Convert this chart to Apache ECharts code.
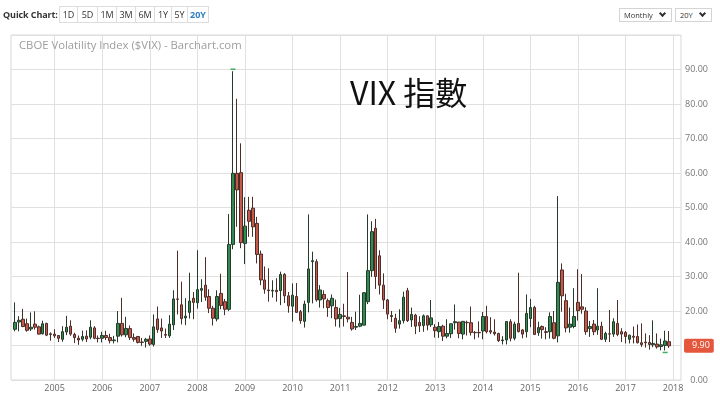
<!DOCTYPE html>
<html>
<head>
<meta charset="utf-8">
<script src="https://cdn.jsdelivr.net/npm/echarts@6/dist/echarts.min.js"></script>
<style>
html,body{margin:0;padding:0;background:#fff;}
#wrap{position:relative;width:720px;height:395px;overflow:hidden;font-family:'Open Sans','DejaVu Sans',sans-serif;}
#chart{position:absolute;left:0;top:0;width:720px;height:395px;}
.qc{position:absolute;left:3px;top:8px;font-size:9px;font-weight:700;color:#333;line-height:14px;letter-spacing:-0.1px;white-space:nowrap;}
.btns{position:absolute;left:59px;top:6px;height:17px;display:flex;border:1px solid #ddd;box-sizing:border-box;background:#fff;}
.btns span{display:block;height:15px;line-height:15px;font-size:9px;color:#333;text-align:center;box-sizing:border-box;border-left:1px solid #ddd;}
.btns span:first-child{border-left:none;}
.btns span.on{color:#2d7fc1;font-weight:700;}
.dd{position:absolute;top:8px;height:14px;border:1px solid #d4d4d4;box-sizing:border-box;font-size:7.5px;line-height:12px;color:#333;padding-left:4px;background:#fff;white-space:nowrap;}
.dd i{position:absolute;right:6px;top:2px;width:3px;height:3px;border-right:2px solid #333;border-bottom:2px solid #333;transform:rotate(45deg);}
</style>
</head>
<body>
<div id="wrap">
  <div id="chart"></div>
  <div class="qc">Quick Chart:</div>
  <div class="btns">
    <span style="width:17px">1D</span><span style="width:20px">5D</span><span style="width:19px">1M</span><span style="width:19px">3M</span><span style="width:19px">6M</span><span style="width:17px">1Y</span><span style="width:16px">5Y</span><span class="on" style="width:21px">20Y</span>
  </div>
  <div class="dd" style="left:619px;width:53px;">Monthly<i></i></div>
  <div class="dd" style="left:675px;width:37px;">20Y<i></i></div>
</div>
<script>
// Monthly candles, Mar 2004 .. Dec 2017
const opens = [
  14.7, 16.8, 17.6, 16.3, 14.8, 16.2, 15.4, 13.4, 16.4, 13.4,
  13.3, 12.9, 11.8, 13.9, 15.6, 13.2, 12.1, 11.8, 12.7, 12.4, 15.1, 12.1,
  12.1, 12.9, 12.3, 11.4, 12.7, 16.4, 13.1, 14.9, 12.3, 12.6, 11.0, 11.2,
  11.9, 10.3, 17.7, 15.1, 13.2, 12.8, 16.0, 23.5, 21.8, 18.0, 19.6, 23.7,
  22.4, 26.0, 27.5, 24.2, 20.8, 17.7, 25.1, 22.7, 20.5, 39.3, 59.9, 60.1,
  39.6, 49.2, 49.8, 45.4, 36.5, 29.0, 26.1, 25.8, 26.0, 25.9, 30.6, 24.4,
  21.4, 24.2, 19.8, 17.0, 22.5, 34.3, 34.3, 23.2, 24.8, 23.0, 21.5, 21.0,
  17.8, 18.6, 18.2, 16.7, 15.3, 15.6, 15.9, 22.7, 31.7, 44.0, 36.0, 27.5,
  23.2, 18.7, 17.9, 16.2, 17.2, 25.9, 17.4, 18.8, 16.7, 15.8, 18.6, 16.0,
  15.3, 14.0, 15.6, 12.7, 13.4, 16.6, 16.8, 13.3, 16.7, 16.6, 13.8, 13.8,
  14.2, 18.4, 14.3, 13.9, 13.5, 11.4, 11.6, 16.9, 12.1, 16.4, 14.5, 14.0,
  17.8, 21.0, 13.7, 15.5, 14.0, 14.0, 16.6, 12.8, 31.9, 23.0, 15.3, 15.5,
  22.5, 21.2, 20.0, 14.9, 16.2, 14.5, 15.6, 11.8, 13.4, 13.3, 16.4, 14.0,
  13.8, 11.8, 12.7, 12.6, 10.8, 11.0, 10.9, 10.2, 10.4, 9.7, 10.0, 11.1
];
const highs = [
  22.5, 18.5, 20.6, 17.8, 19.6, 19.9, 15.8, 17.2, 16.6, 13.8,
  14.7, 13.0, 15.6, 18.6, 17.3, 13.7, 12.9, 14.3, 14.4, 17.3, 15.6, 12.9,
  14.0, 14.3, 13.4, 12.8, 20.0, 23.8, 18.3, 15.8, 13.5, 12.8, 12.2, 12.2,
  12.9, 19.0, 21.3, 17.8, 14.9, 18.8, 26.0, 37.5, 28.5, 23.7, 31.1, 25.5,
  37.6, 29.2, 35.6, 26.3, 21.5, 26.0, 30.8, 23.5, 48.1, 89.5, 81.5, 68.6,
  53.0, 53.1, 53.1, 47.3, 37.5, 32.9, 32.4, 28.9, 29.5, 31.4, 31.0, 25.5,
  28.0, 28.1, 20.3, 23.0, 48.0, 37.2, 35.0, 27.5, 26.0, 23.6, 24.8, 23.3,
  20.9, 22.1, 31.3, 18.3, 19.8, 24.7, 25.5, 48.0, 46.0, 46.7, 37.6, 30.9,
  23.5, 20.0, 19.2, 20.5, 25.6, 26.7, 21.0, 19.2, 18.5, 19.0, 18.7, 23.2,
  16.2, 16.8, 16.0, 17.6, 16.3, 21.9, 16.8, 17.1, 17.2, 21.3, 14.2, 17.0,
  19.7, 21.5, 18.2, 17.6, 13.7, 12.7, 17.0, 17.6, 16.9, 31.1, 14.8, 24.8,
  23.5, 21.5, 16.9, 15.8, 15.3, 19.6, 20.0, 53.3, 33.8, 25.0, 21.0, 26.6,
  32.1, 30.7, 21.1, 17.1, 17.4, 26.6, 16.9, 14.0, 20.3, 17.9, 23.2, 15.0,
  14.2, 13.1, 15.5, 16.1, 16.4, 13.5, 13.0, 17.3, 13.5, 12.0, 14.3, 14.2
];
const lows = [
  14.1, 14.1, 15.3, 14.0, 14.2, 14.6, 13.2, 13.2, 12.7, 11.4,
  12.2, 11.0, 11.1, 13.0, 12.8, 10.7, 10.2, 11.2, 11.0, 11.8, 11.8, 10.9,
  10.9, 11.6, 10.6, 10.6, 10.9, 12.6, 12.4, 11.6, 11.1, 10.6, 9.9, 9.4,
  9.9, 9.7, 13.7, 12.2, 12.2, 12.2, 14.5, 19.0, 16.1, 15.9, 17.8, 17.6,
  20.7, 22.6, 23.0, 19.4, 15.8, 17.0, 20.5, 18.8, 20.0, 37.9, 44.4, 38.2,
  33.6, 41.5, 41.5, 33.8, 27.5, 25.0, 22.7, 23.9, 22.7, 21.7, 22.3, 19.5,
  16.9, 19.5, 16.3, 15.2, 19.6, 22.2, 22.7, 21.0, 20.8, 18.3, 17.9, 15.5,
  15.2, 15.5, 16.7, 14.3, 14.5, 15.3, 15.9, 22.0, 29.9, 26.4, 24.8, 20.6,
  17.6, 16.8, 13.7, 14.9, 16.4, 16.8, 15.4, 13.3, 13.9, 14.0, 14.4, 15.4,
  12.3, 12.2, 11.3, 12.1, 12.2, 14.6, 12.1, 11.8, 12.9, 12.9, 11.8, 12.3,
  11.8, 13.5, 13.3, 12.9, 11.0, 10.3, 10.3, 11.2, 11.5, 13.8, 12.1, 12.3,
  15.3, 13.1, 12.8, 12.0, 11.8, 12.0, 11.8, 10.9, 19.8, 13.8, 13.7, 15.0,
  17.2, 19.2, 13.1, 12.5, 13.0, 13.1, 11.6, 11.0, 11.0, 12.5, 12.7, 11.0,
  10.6, 10.6, 10.6, 10.6, 9.6, 9.4, 8.8, 9.5, 9.1, 8.6, 8.56, 9.3
];
const closes = [
  16.7, 17.3, 15.5, 14.4, 15.3, 15.3, 13.3, 16.3, 13.0, 13.2,
  12.8, 12.1, 14.0, 15.3, 13.3, 12.3, 11.6, 12.6, 11.9, 15.3, 12.1, 12.0,
  12.9, 12.3, 11.4, 11.6, 16.4, 13.1, 14.95, 12.3, 11.8, 10.9, 10.9, 11.8,
  10.4, 15.4, 14.6, 14.2, 13.0, 16.2, 23.5, 23.4, 17.8, 18.5, 22.9, 22.5,
  26.2, 26.5, 24.0, 20.8, 17.9, 24.2, 21.6, 20.5, 39.3, 59.9, 55.1, 39.8,
  44.6, 46.0, 44.4, 36.4, 29.0, 26.3, 25.9, 26.0, 25.6, 30.6, 24.4, 21.5,
  24.6, 19.6, 17.2, 22.0, 32.2, 34.6, 23.2, 26.1, 23.5, 21.0, 23.7, 17.7,
  19.0, 18.4, 17.7, 14.8, 15.5, 16.4, 25.3, 31.7, 43.0, 30.0, 27.5, 23.2,
  19.1, 18.4, 15.0, 17.2, 24.0, 17.2, 19.0, 15.6, 15.7, 18.6, 15.9, 18.0,
  14.3, 15.5, 12.7, 13.5, 16.3, 16.9, 13.5, 17.0, 16.6, 13.8, 13.7, 13.7,
  18.4, 14.0, 13.9, 13.4, 11.4, 11.6, 16.95, 12.1, 16.2, 14.0, 13.3, 19.3,
  21.0, 13.2, 15.2, 14.6, 13.8, 18.4, 12.1, 28.3, 24.4, 15.1, 16.2, 18.4,
  20.1, 20.5, 14.0, 15.5, 14.0, 15.6, 11.8, 13.5, 13.3, 16.9, 13.2, 13.3,
  12.6, 13.0, 12.4, 10.8, 10.3, 10.8, 10.3, 10.6, 9.6, 10.2, 11.3, 9.9
];
const lastPrice = 9.90;
const yTicks = [0, 10, 20, 30, 40, 50, 60, 70, 80, 90];

// category axis: Feb 2004 .. Mar 2018 (one empty month before, three after)
const axisStartYear = 2004, axisStartMonth = 2, padBefore = 1, padAfter = 3;
const categories = [];
for (let i = 0; i < padBefore + closes.length + padAfter; i++) {
  const m = axisStartMonth - 1 + i;
  categories.push((axisStartYear + Math.floor(m / 12)) + '-' + String(m % 12 + 1).padStart(2, '0'));
}
const empty = ['-', '-', '-', '-'];
const candles = categories.map((c, i) => {
  const k = i - padBefore;
  if (k < 0 || k >= closes.length) return empty;
  return [opens[k], closes[k], lows[k], highs[k]];
});
const isJan = (idx, val) => String(val).slice(5) === '01';

const chart = echarts.init(document.getElementById('chart'), null, { renderer: 'canvas' });
chart.setOption({
  animation: false,
  backgroundColor: '#fff',
  textStyle: { fontFamily: "'Open Sans', sans-serif" },
  title: [
    {
      text: 'CBOE Volatility Index ($VIX) - Barchart.com',
      left: 19, top: 40, padding: 0,
      textStyle: { fontSize: 11.3, fontWeight: 'normal', color: '#9d9d9d', fontFamily: "'Open Sans', sans-serif" }
    },
    {
      text: 'VIX 指數',
      left: 350, top: 77, padding: 0,
      textStyle: { fontSize: 32, fontWeight: 'normal', color: '#111', fontFamily: "'Noto Sans CJK TC', 'Open Sans', sans-serif" }
    }
  ],
  grid: {
    left: 11, right: 39, top: 35, bottom: 15,
    containLabel: false, outerBoundsMode: 'none',
    show: true, borderColor: '#d8d8d8', borderWidth: 1, backgroundColor: 'transparent'
  },
  xAxis: {
    type: 'category',
    data: categories,
    boundaryGap: false,
    axisLine: { show: false },
    axisTick: { show: false },
    axisLabel: {
      interval: isJan,
      formatter: v => v.slice(0, 4),
      fontSize: 9, color: '#666', margin: 4
    },
    splitLine: { show: true, interval: isJan, lineStyle: { color: '#e0e0e0', width: 1 } }
  },
  yAxis: {
    type: 'value',
    position: 'right',
    min: 0, max: 100, interval: 10,
    axisLine: { show: false },
    axisTick: { show: false },
    axisLabel: {
      showMaxLabel: false,
      formatter: v => (yTicks.indexOf(v) >= 0 ? v.toFixed(2) : ''),
      fontSize: 9, color: '#777', margin: 27, align: 'right'
    },
    splitLine: { show: true, lineStyle: { color: '#e0e0e0', width: 1 } }
  },
  series: [{
    type: 'candlestick',
    data: candles,
    barWidth: 3,
    itemStyle: {
      color: '#2f8c4e',
      color0: '#c4584a',
      borderColor: '#263a2c',
      borderColor0: '#4d2d28',
      borderWidth: 1
    },
    markPoint: {
      silent: true,
      symbol: 'rect',
      symbolSize: [5, 1.5],
      itemStyle: { color: '#3fae5f' },
      label: { show: false },
      data: [
        { type: 'max', valueDim: 'highest', symbolOffset: [0, -2] },
        { type: 'min', valueDim: 'lowest', symbolOffset: [0, 2] }
      ]
    },
    markLine: {
      silent: true,
      symbol: ['none', 'none'],
      lineStyle: { width: 0, color: 'rgba(0,0,0,0)' },
      label: {
        show: true,
        position: 'end',
        distance: 3,
        formatter: () => lastPrice.toFixed(2),
        color: '#fff',
        fontSize: 9,
        lineHeight: 10,
        backgroundColor: '#e5573d',
        padding: [2, 4, 2, 8],
        borderRadius: 2
      },
      data: [{ yAxis: lastPrice }]
    }
  }]
});
</script>
</body>
</html>
